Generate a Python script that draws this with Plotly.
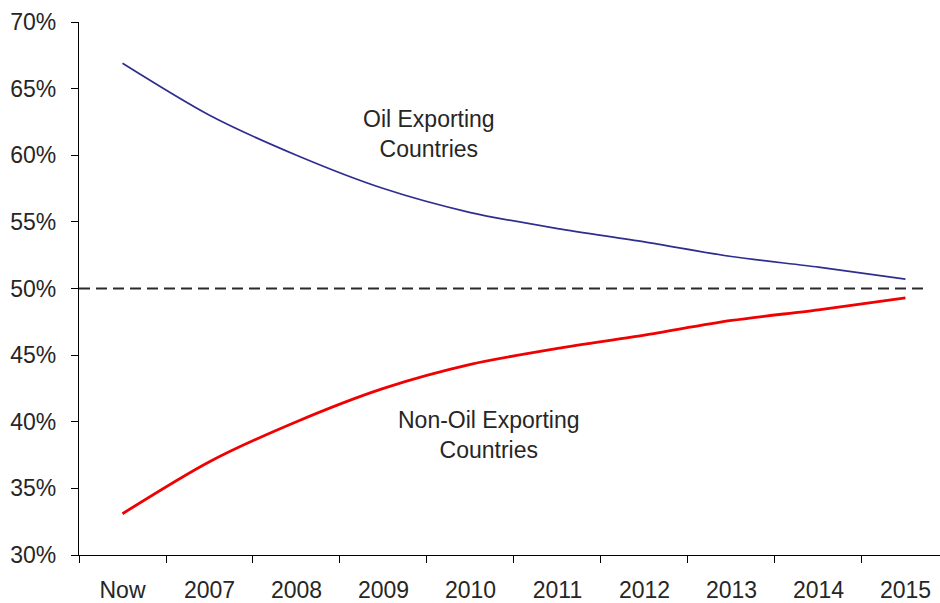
import plotly.graph_objects as go

# Share of the total by group, in percent
periods = ["Now", "2007", "2008", "2009", "2010", "2011", "2012", "2013", "2014", "2015"]
oil_exporting = [66.9, 63.0, 60.0, 57.5, 55.7, 54.5, 53.5, 52.4, 51.6, 50.7]
non_oil_exporting = [33.1, 37.0, 40.0, 42.5, 44.3, 45.5, 46.5, 47.6, 48.4, 49.3]
y_ticks = [30, 35, 40, 45, 50, 55, 60, 65, 70]
y_tick_labels = [f"{v}%" for v in y_ticks]
parity_level = 50

FONT = "Liberation Sans, Arial, sans-serif"
TEXT_COLOR = "#262626"

fig = go.Figure()

fig.add_trace(go.Scatter(
    x=periods, y=oil_exporting, mode="lines",
    line=dict(color="#2e2e8f", width=1.7, shape="spline", smoothing=0.8),
    name="Oil Exporting Countries", hoverinfo="x+y",
))
fig.add_trace(go.Scatter(
    x=periods, y=non_oil_exporting, mode="lines",
    line=dict(color="#f00000", width=2.8, shape="spline", smoothing=0.8),
    name="Non-Oil Exporting Countries", hoverinfo="x+y",
))

# 50% parity reference line
fig.add_shape(
    type="line", xref="paper", yref="y",
    x0=0, x1=0.985, y0=parity_level, y1=parity_level,
    line=dict(color="#2a2a2a", width=1.8, dash="11px,6px"),
    layer="below",
)

fig.add_annotation(
    text="Oil Exporting<br>Countries", xref="paper", yref="paper",
    x=0.4065, y=0.79, xanchor="center", yanchor="middle",
    showarrow=False, align="center",
    font=dict(family=FONT, size=23, color=TEXT_COLOR),
)
fig.add_annotation(
    text="Non-Oil Exporting<br>Countries", xref="paper", yref="paper",
    x=0.476, y=0.2254, xanchor="center", yanchor="middle",
    showarrow=False, align="center",
    font=dict(family=FONT, size=23, color=TEXT_COLOR),
)

fig.update_layout(
    width=940, height=603,
    margin=dict(l=79, r=0, t=22, b=48),
    paper_bgcolor="white", plot_bgcolor="white",
    showlegend=False,
    font=dict(family=FONT, size=23, color=TEXT_COLOR),
    xaxis=dict(
        type="category", range=[-0.5, 9.397],
        tickson="boundaries", ticks="outside", ticklen=7, tickwidth=1.3,
        tickcolor="black", showline=True, linecolor="black", linewidth=1.3,
        showgrid=False, zeroline=False, ticklabelstandoff=14,
        tickfont=dict(family=FONT, size=23, color=TEXT_COLOR),
    ),
    yaxis=dict(
        range=[30, 70], tickvals=y_ticks, ticktext=y_tick_labels,
        ticks="outside", ticklen=7, tickwidth=1.3, tickcolor="black",
        showline=True, linecolor="black", linewidth=1.3,
        showgrid=False, zeroline=False, ticklabelstandoff=10,
        tickfont=dict(family=FONT, size=23, color=TEXT_COLOR),
    ),
)

fig.write_html("out.html")
